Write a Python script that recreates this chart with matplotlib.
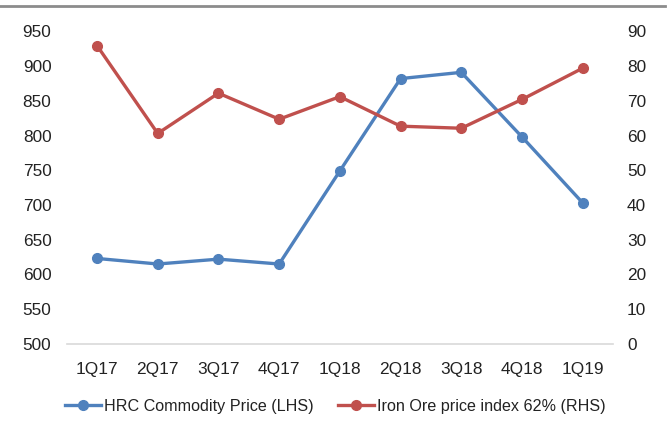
import matplotlib
matplotlib.use('Agg')
import matplotlib.pyplot as plt
from matplotlib.lines import Line2D

plt.rcParams['font.family'] = ['Liberation Sans', 'DejaVu Sans']

quarters = ['1Q17', '2Q17', '3Q17', '4Q17', '1Q18', '2Q18', '3Q18', '4Q18', '1Q19']
hrc_price = [623, 615, 622, 615, 749, 882, 891, 798, 703]
iron_ore = [85.9, 60.6, 72.2, 64.7, 71.2, 62.7, 62.1, 70.4, 79.4]
left_ticks = list(range(500, 951, 50))
right_ticks = list(range(0, 91, 10))

blue = '#4F81BD'
red = '#C0504D'
txt = '#222222'
fs = 12.4

fig = plt.figure(figsize=(6.7, 4.24), dpi=100)
ax = fig.add_axes([0.0995, 0.189, 0.8155, 0.737])
ax2 = ax.twinx()

x = list(range(len(quarters)))
ax.plot(x, hrc_price, color=blue, lw=2.4, marker='o', ms=7, zorder=3)
ax2.plot(x, iron_ore, color=red, lw=2.4, marker='o', ms=7, zorder=3)

ax.set_xlim(-0.5, len(quarters) - 0.5)
ax.set_ylim(500, 950)
ax2.set_ylim(0, 90)
ax.set_xticks(x)
ax.set_xticklabels(quarters)
ax.set_yticks(left_ticks)
ax2.set_yticks(right_ticks)

for a in (ax, ax2):
    for s in a.spines.values():
        s.set_visible(False)
    a.tick_params(length=0, labelsize=fs, colors=txt)
ax.spines['bottom'].set_visible(True)
ax.spines['bottom'].set_color('#D9D9D9')
ax.spines['bottom'].set_linewidth(1.2)
ax.tick_params(axis='x', pad=13)
ax.tick_params(axis='y', pad=11)
ax2.tick_params(axis='y', pad=10)

handles = [
    Line2D([], [], color=blue, lw=2.4, marker='o', ms=7),
    Line2D([], [], color=red, lw=2.4, marker='o', ms=7),
]
fig.legend(handles, ['HRC Commodity Price (LHS)', 'Iron Ore price index 62% (RHS)'],
           loc='center', bbox_to_anchor=(335.5 / 670, 1 - 406 / 424), ncol=2,
           frameon=False, fontsize=11.6, handlelength=2.2, handletextpad=0.2,
           columnspacing=1.55, labelcolor=txt)

# grey rule across the top
fig.add_artist(Line2D([0, 0.993], [1 - 6 / 424, 1 - 6 / 424], transform=fig.transFigure,
                      color='#8C8C8C', lw=2))

fig.savefig('out.png', dpi=100)
